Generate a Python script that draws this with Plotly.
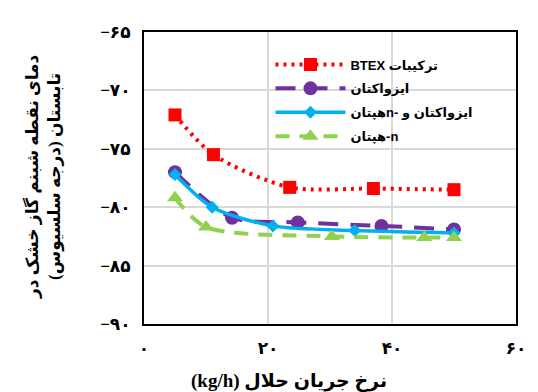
import plotly.graph_objects as go

# ---- data ----
x_btex = [5, 11.2, 23.5, 37, 50]
y_btex = [-72.1, -75.5, -78.3, -78.4, -78.5]

x_iso = [5, 14.2, 24.8, 38.3, 50]
y_iso = [-77.0, -80.9, -81.3, -81.6, -81.9]

x_mix = [5, 11, 20.8, 34, 50]
y_mix = [-77.2, -80.0, -81.6, -82.0, -82.2]

x_hep = [5, 10, 30.3, 45.2, 50]
y_hep = [-79.2, -81.7, -82.5, -82.6, -82.6]

RLE, PDF = "\u202B", "\u202C"
name_btex = RLE + "ترکیبات BTEX" + PDF
name_iso = RLE + "ایزواکتان" + PDF
name_mix = RLE + "ایزواکتان و -nهپتان" + PDF
name_hep = RLE + "n-هپتان" + PDF

x_tickvals = [0, 20, 40, 60]
x_ticktext = ["۰", "۲۰", "۴۰", "۶۰"]
y_tickvals = [-90, -85, -80, -75, -70, -65]
y_ticktext = ["−۹۰", "−۸۵", "−۸۰", "−۷۵", "−۷۰", "−۶۵"]

x_title = RLE + "نرخ جریان حلال (kg/h)" + PDF
y_title_1 = RLE + "دمای نقطه شبنم گاز خشک در" + PDF
y_title_2 = RLE + "تابستان (درجه سلسیوس)" + PDF

fig = go.Figure()
fig.add_trace(go.Scatter(
    x=x_btex, y=y_btex, name=name_btex, mode="lines+markers", legendgroup="a",
    line=dict(color="#FF0000", width=4, dash="3px,5px", shape="spline", smoothing=0.8),
    marker=dict(symbol="square", size=13, color="#FF0000")))
fig.add_trace(go.Scatter(
    x=x_iso, y=y_iso, name=name_iso, mode="lines+markers", legendgroup="b",
    line=dict(color="#7030A0", width=4, dash="20px,12px", shape="spline", smoothing=0.8),
    marker=dict(symbol="circle", size=14, color="#7030A0")))
fig.add_trace(go.Scatter(
    x=x_mix, y=y_mix, name=name_mix, mode="lines+markers", legendgroup="c",
    line=dict(color="#00B0F0", width=3.5, shape="spline", smoothing=0.8),
    marker=dict(symbol="diamond", size=10, color="#00B0F0")))
fig.add_trace(go.Scatter(
    x=x_hep, y=y_hep, name=name_hep, mode="lines+markers", legendgroup="d",
    line=dict(color="#92D050", width=4, dash="14px,10px", shape="spline", smoothing=0.8),
    marker=dict(symbol="triangle-up", size=14, color="#92D050")))

axis_common = dict(
    showline=True, linecolor="black", linewidth=2, mirror=True,
    showgrid=True, gridcolor="#D9D9D9", gridwidth=1.5,
    zeroline=False, ticks="",
    tickfont=dict(family="Liberation Serif, DejaVu Sans", size=17, color="black", weight="bold"),
)

fig.update_layout(
    width=538, height=392,
    margin=dict(l=144, r=14, t=32, b=68),
    paper_bgcolor="white", plot_bgcolor="white",
    xaxis=dict(range=[0, 60], tickvals=x_tickvals, ticktext=x_ticktext,
               ticklabelstandoff=8, **axis_common),
    yaxis=dict(range=[-90, -65], tickvals=y_tickvals, ticktext=y_ticktext,
               ticklabelstandoff=8, **axis_common),
    legend=dict(x=0.34, y=0.94, xanchor="left", yanchor="top", itemwidth=70,
                bgcolor="rgba(0,0,0,0)", tracegroupgap=4,
                font=dict(family="Liberation Sans, DejaVu Sans", size=13, color="black", weight="bold")),
    showlegend=True,
    annotations=[
        dict(text=x_title, xref="paper", yref="paper", x=0.39, y=-0.195,
             xanchor="center", yanchor="middle", showarrow=False,
             font=dict(family="Liberation Serif, DejaVu Sans", size=19, color="black", weight="bold")),
        dict(text=y_title_1 + "<br>" + y_title_2, xref="paper", yref="paper", x=-0.27, y=0.505,
             xanchor="center", yanchor="middle", showarrow=False, textangle=-90,
             font=dict(family="Liberation Serif, DejaVu Sans", size=17, color="black", weight="bold")),
    ],
)

fig.write_html("out.html")
